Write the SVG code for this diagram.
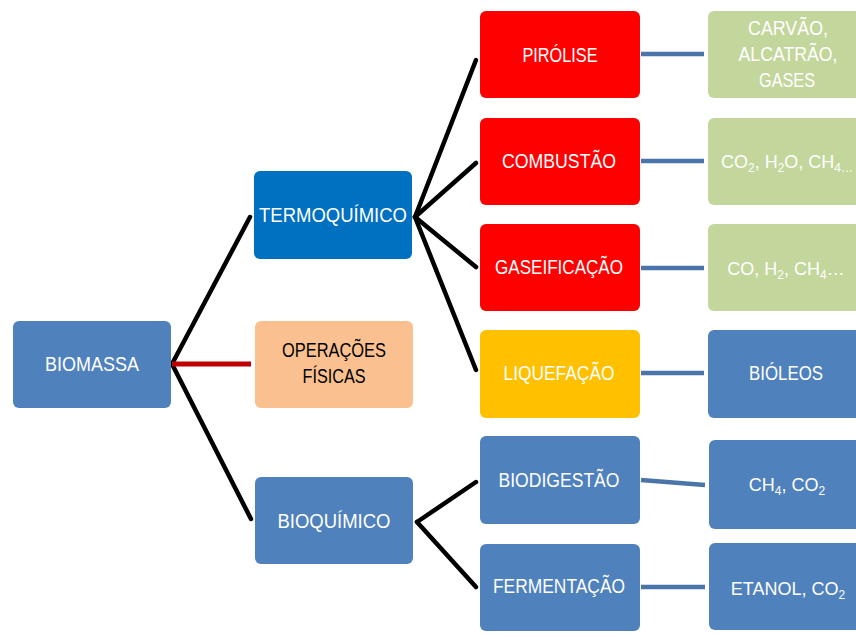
<svg xmlns="http://www.w3.org/2000/svg" width="856" height="636" viewBox="0 0 856 636">
<style>
text{font-family:"Liberation Sans","DejaVu Sans",sans-serif;font-size:20px;text-anchor:middle;fill:#fff}
text.s18{font-size:18px}
.dark{fill:#000}
.sub{font-size:12px}
.blk{stroke:#000;stroke-width:4.5;fill:none;stroke-linecap:round}
.blu{stroke:#4a74aa;stroke-width:4.5;fill:none}
.red{stroke:#c00000;stroke-width:5;fill:none}
.b{fill:#4f81bd}
.t{fill:#0070c0}
.o{fill:#fac090}
.r{fill:#ff0000}
.y{fill:#ffc000}
.g{fill:#c3d69b}
</style>
<rect width="856" height="636" fill="#fff"/>
<g id="connectors">
<line class="blk" x1="172" y1="364" x2="250" y2="217"/>
<line class="blk" x1="172" y1="364" x2="251" y2="519"/>
<line class="red" x1="172" y1="364" x2="251" y2="364"/>
<line class="blk" x1="415" y1="217" x2="476" y2="60"/>
<line class="blk" x1="415" y1="217" x2="476" y2="163"/>
<line class="blk" x1="415" y1="217" x2="476" y2="267"/>
<line class="blk" x1="415" y1="217" x2="476" y2="370"/>
<line class="blk" x1="417" y1="522" x2="476" y2="482"/>
<line class="blk" x1="417" y1="522" x2="476" y2="587"/>
<line class="blu" x1="641" y1="54" x2="704" y2="54"/>
<line class="blu" x1="641" y1="161" x2="704" y2="161"/>
<line class="blu" x1="641" y1="268" x2="704" y2="268"/>
<line class="blu" x1="641" y1="373" x2="704" y2="373"/>
<line class="blu" x1="641" y1="480" x2="705" y2="485"/>
<line class="blu" x1="641" y1="587" x2="705" y2="587"/>
</g>
<g id="biomassa"><rect class="b" x="13" y="321" width="158" height="87" rx="6"/><text x="92" y="371" textLength="94" lengthAdjust="spacingAndGlyphs">BIOMASSA</text></g>
<g id="termoquimico"><rect class="t" x="254" y="171" width="158" height="88" rx="6"/><text x="333" y="222" textLength="148" lengthAdjust="spacingAndGlyphs">TERMOQUÍMICO</text></g>
<g id="operacoes"><rect class="o" x="255" y="321" width="158" height="87" rx="6"/><text class="dark" x="334" y="357" textLength="104" lengthAdjust="spacingAndGlyphs">OPERAÇÕES</text><text class="dark" x="334" y="383" textLength="63" lengthAdjust="spacingAndGlyphs">FÍSICAS</text></g>
<g id="bioquimico"><rect class="b" x="255" y="477" width="158" height="87" rx="6"/><text x="334" y="528" textLength="113" lengthAdjust="spacingAndGlyphs">BIOQUÍMICO</text></g>
<g id="pirolise"><rect class="r" x="480" y="11" width="160" height="87" rx="6"/><text x="560" y="62" textLength="75" lengthAdjust="spacingAndGlyphs">PIRÓLISE</text></g>
<g id="combustao"><rect class="r" x="480" y="118" width="160" height="87" rx="6"/><text x="559" y="168" textLength="114" lengthAdjust="spacingAndGlyphs">COMBUSTÃO</text></g>
<g id="gaseificacao"><rect class="r" x="480" y="224" width="160" height="87" rx="6"/><text x="559" y="274" textLength="128" lengthAdjust="spacingAndGlyphs">GASEIFICAÇÃO</text></g>
<g id="liquefacao"><rect class="y" x="480" y="330" width="160" height="88" rx="6"/><text x="559" y="380" textLength="111" lengthAdjust="spacingAndGlyphs">LIQUEFAÇÃO</text></g>
<g id="biodigestao"><rect class="b" x="480" y="436" width="160" height="88" rx="6"/><text x="559" y="487" textLength="121" lengthAdjust="spacingAndGlyphs">BIODIGESTÃO</text></g>
<g id="fermentacao"><rect class="b" x="480" y="544" width="160" height="87" rx="6"/><text x="559" y="593" textLength="132" lengthAdjust="spacingAndGlyphs">FERMENTAÇÃO</text></g>
<g id="carvao"><rect class="g" x="708" y="11" width="160" height="87" rx="6"/><text x="788" y="35" textLength="80" lengthAdjust="spacingAndGlyphs">CARVÃO,</text><text x="788" y="61" textLength="99" lengthAdjust="spacingAndGlyphs">ALCATRÃO,</text><text x="787" y="87" textLength="56" lengthAdjust="spacingAndGlyphs">GASES</text></g>
<g id="co2h2o"><rect class="g" x="708" y="118" width="160" height="87" rx="6"/><text class="s18" x="787" y="168">CO<tspan class="sub" dy="4">2</tspan><tspan dy="-4">, H</tspan><tspan class="sub" dy="4">2</tspan><tspan dy="-4">O, CH</tspan><tspan class="sub" dy="4">4…</tspan></text></g>
<g id="coh2"><rect class="g" x="708" y="224" width="160" height="87" rx="6"/><text class="s18" x="786" y="275">CO, H<tspan class="sub" dy="4">2</tspan><tspan dy="-4">, CH</tspan><tspan class="sub" dy="4">4</tspan><tspan dy="-4">…</tspan></text></g>
<g id="bioleos"><rect class="b" x="708" y="330" width="160" height="88" rx="6"/><text x="786" y="380" textLength="74" lengthAdjust="spacingAndGlyphs">BIÓLEOS</text></g>
<g id="ch4co2"><rect class="b" x="709" y="440" width="160" height="89" rx="6"/><text class="s18" x="787" y="491">CH<tspan class="sub" dy="4">4</tspan><tspan dy="-4">, CO</tspan><tspan class="sub" dy="4">2</tspan></text></g>
<g id="etanol"><rect class="b" x="709" y="543" width="160" height="87" rx="6"/><text class="s18" x="788" y="595">ETANOL, CO<tspan class="sub" dy="4">2</tspan></text></g>
</svg>
